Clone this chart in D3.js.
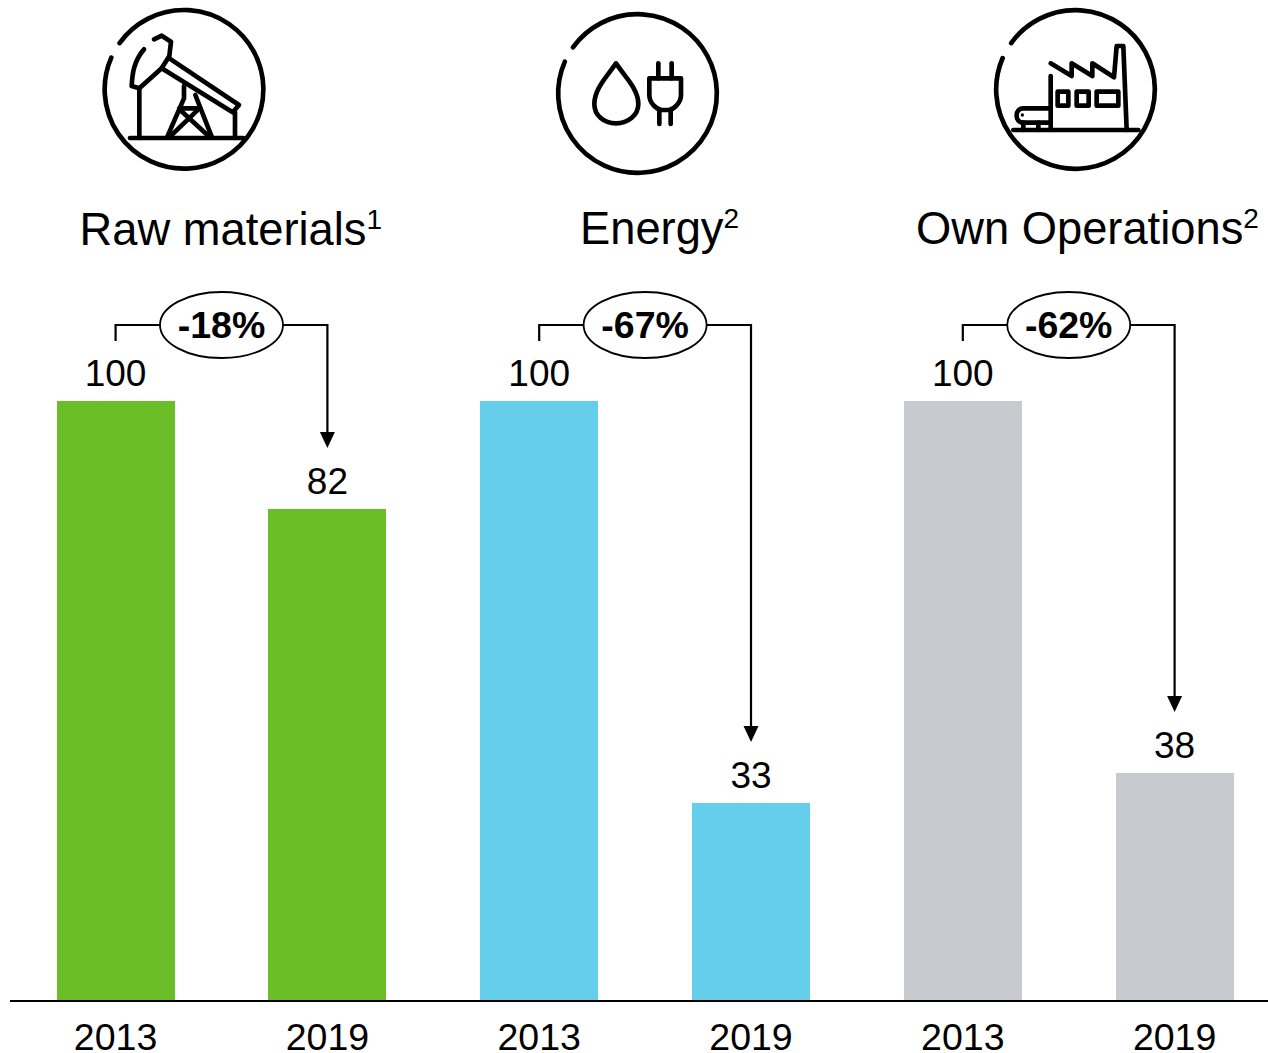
<!DOCTYPE html>
<html><head><meta charset="utf-8">
<script src="https://cdn.jsdelivr.net/npm/d3@7/dist/d3.min.js"></script>
<style>html,body{margin:0;padding:0;background:#fff}svg{display:block}text{font-family:"Liberation Sans",Arial,sans-serif;fill:#000}</style>
</head><body><svg id="c" width="1268" height="1053"></svg>
<script>
const years = ["2013","2019","2013","2019","2013","2019"];
const values = [100,82,100,33,100,38];
const colors = ["#6BBE27","#6BBE27","#64CEEB","#64CEEB","#C7CBCF","#C7CBCF"];
const groupTitles = ["Raw materials","Energy","Own Operations"];
const titleNotes = ["1","2","2"];
const changes = ["-18%","-67%","-62%"];

const svg = d3.select("#c");
const x = d3.scaleBand().domain(d3.range(6)).range([56.6,1233.6]).paddingInner(0.443).paddingOuter(0);
const y = d3.scaleLinear().domain([0,100]).range([1001,401]);
const cx = i => x(i)+x.bandwidth()/2;

svg.selectAll("rect.bar").data(values).join("rect").attr("class","bar")
  .attr("x",(d,i)=>Math.round(x(i))).attr("width",Math.round(x.bandwidth()))
  .attr("y",d=>y(d)).attr("height",d=>y(0)-y(d)).attr("fill",(d,i)=>colors[i]);

svg.append("line").attr("x1",10).attr("x2",1268).attr("y1",y(0)).attr("y2",y(0)).attr("stroke","#000").attr("stroke-width",2);

svg.selectAll("text.year").data(years).join("text").attr("class","year")
  .attr("x",(d,i)=>cx(i)).attr("y",1050).attr("text-anchor","middle").attr("font-size",37.5).text(d=>d);
svg.selectAll("text.val").data(values).join("text").attr("class","val")
  .attr("x",(d,i)=>cx(i)).attr("y",d=>y(d)-15).attr("text-anchor","middle").attr("font-size",37).text(d=>d);

// change brackets
const topY=325;
changes.forEach((c,k)=>{
  const a=2*k,b=2*k+1, mx=(cx(a)+cx(b))/2, tip=y(values[b])-61;
  const g=svg.append("g");
  g.append("path").attr("fill","none").attr("stroke","#000").attr("stroke-width",2.2)
   .attr("d",`M${cx(a)},341V${topY}H${cx(b)}V${tip-14}`);
  g.append("path").attr("d",`M${cx(b)-7.5},${tip-16}H${cx(b)+7.5}L${cx(b)},${tip}Z`).attr("fill","#000");
  g.append("ellipse").attr("cx",mx).attr("cy",topY).attr("rx",61.5).attr("ry",33).attr("fill","#fff").attr("stroke","#000").attr("stroke-width",1.8);
  g.append("text").attr("x",mx).attr("y",topY+13).attr("text-anchor","middle").attr("font-size",37.5).attr("font-weight","bold").text(c);
});

// titles
const titleX=[79.5,580,916], titleY=[245,244,244];
groupTitles.forEach((t,k)=>{
  const tx=svg.append("text").attr("x",titleX[k]).attr("y",titleY[k]).attr("font-size",45.3).text(t);
  tx.append("tspan").attr("font-size",28).attr("dy",-16).text(titleNotes[k]);
});

// icons (drawn in 3x crop coordinates)
const icons=[
 {ox:90,oy:0,c:[282,268],r:238,a:[90,130],b:[62,172],paths:[
  "M120,414H460","M148,414V264","M162,148C132,182 127,220 125,258L148,265L215,205L238,168L243,125L215,107L192,118",
  "M215,205L428,337L447,315L238,175","M435,337V414","M282,258V295L232,410","M316,285L365,410","M268,325H328","M268,328L358,410","M325,328L240,410"]},
 {ox:545,oy:0,c:[277.5,280.5],r:238,a:[85,143],b:[60,185],paths:[
  "M213,190C190,225 148,265 148,312C148,345 175,370 213,370C250,370 280,345 280,312C280,265 235,225 213,190Z",
  "M340,190V235","M380,190V235","M313,235H408V285C408,310 385,328 372,330H350C335,328 313,310 313,285Z","M343,330V372","M377,330V372"]},
 {ox:985,oy:0,c:[271.5,268.5],r:238,a:[80,130],b:[55,175],paths:[
  "M85,390H460","M197,228V390","M197,190L260,228V190L322,228V190L387,232L395,138H415L425,390",
  "M218,275H250V317H218Z","M275,275H311V317H275Z","M335,275H400V317H335Z",
  "M197,325H115C88,325 88,368 115,368H197","M115,368V390","M160,368V390"],dot:[112,345]}
];
const onCircle=(ic,p)=>{const t=Math.atan2(p[1]-ic.c[1],p[0]-ic.c[0]);return [ic.c[0]+ic.r*Math.cos(t),ic.c[1]+ic.r*Math.sin(t)];};
icons.forEach(ic=>{
  const g=svg.append("g").attr("transform",`translate(${ic.ox},${ic.oy}) scale(${1/3})`)
    .attr("fill","none").attr("stroke","#000").attr("stroke-width",14).attr("stroke-linecap","round").attr("stroke-linejoin","round");
  const A=onCircle(ic,ic.a),B=onCircle(ic,ic.b);
  g.append("path").attr("d",`M${A[0]},${A[1]}A${ic.r},${ic.r} 0 1 1 ${B[0]},${B[1]}`);
  ic.paths.forEach(p=>g.append("path").attr("d",p));
  if(ic.dot) g.append("circle").attr("cx",ic.dot[0]).attr("cy",ic.dot[1]).attr("r",5).attr("fill","#000").attr("stroke","none");
});
</script></body></html>
